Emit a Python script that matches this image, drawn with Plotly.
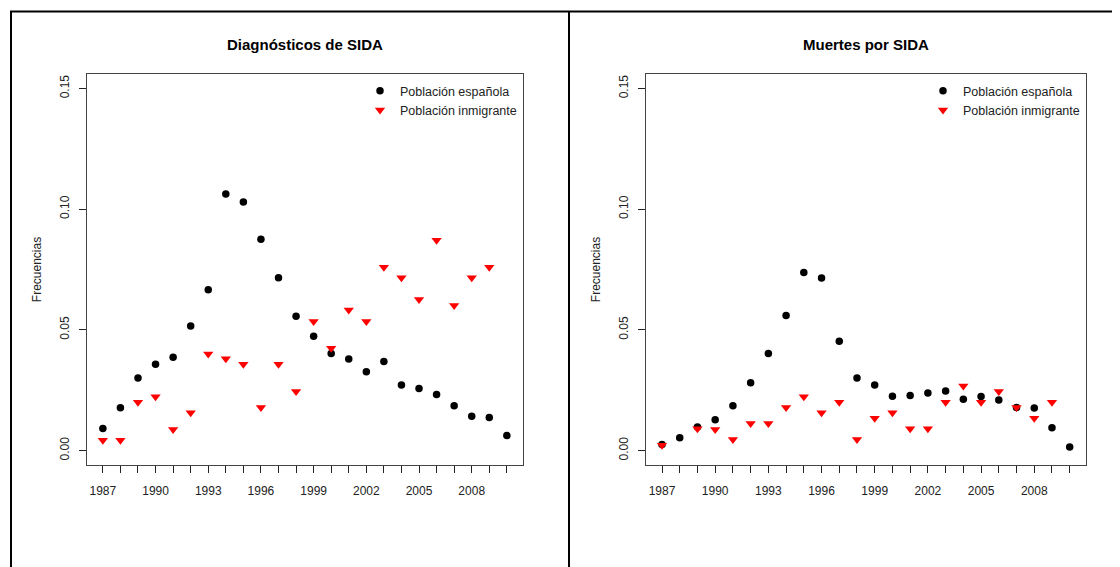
import plotly.graph_objects as go

years = list(range(1987, 2011))
tick_label_years = [1987, 1990, 1993, 1996, 1999, 2002, 2005, 2008]
y_ticks = [0.0, 0.05, 0.10, 0.15]

diag_esp = [0.0091, 0.0177, 0.0300, 0.0357, 0.0386, 0.0516, 0.0666, 0.1063, 0.1030, 0.0875,
            0.0716, 0.0556, 0.0473, 0.0402, 0.0379, 0.0326, 0.0369, 0.0271, 0.0257, 0.0232,
            0.0185, 0.0142, 0.0137, 0.0062]
diag_inm = [0.0043, 0.0043, 0.0200, 0.0223, 0.0087, 0.0156, 0.0400, 0.0380, 0.0357, 0.0178,
            0.0357, 0.0245, 0.0535, 0.0424, 0.0582, 0.0535, 0.0759, 0.0716, 0.0626, 0.0871,
            0.0601, 0.0716, 0.0759, None]

muert_esp = [0.0025, 0.0053, 0.0097, 0.0127, 0.0185, 0.0281, 0.0402, 0.0559, 0.0738, 0.0715,
             0.0453, 0.0300, 0.0271, 0.0225, 0.0228, 0.0238, 0.0247, 0.0212, 0.0224, 0.0209,
             0.0178, 0.0176, 0.0094, 0.0015]
muert_inm = [0.0022, None, 0.0090, 0.0087, 0.0046, 0.0112, 0.0112, 0.0178, 0.0223, 0.0156,
             0.0200, 0.0046, 0.0134, 0.0156, 0.0090, 0.0090, 0.0200, 0.0267, 0.0200, 0.0245,
             0.0178, 0.0134, 0.0200, None]

titles = ["Diagnósticos de SIDA", "Muertes por SIDA"]
series_names = ["Población española", "Población inmigrante"]
y_title = "Frecuencias"

# page body has an 8px margin: figure is drawn at (8, 8) in the window
OFF = 8
W, H = 1120 - OFF, 567 - OFF
FONT = "Liberation Sans, Arial, sans-serif"


def fx(px):
    return (px - OFF) / W


def fy(py):
    return 1 - (py - OFF) / H


fig = go.Figure()

panels = [(diag_esp, diag_inm, "x", "y", "legend"),
          (muert_esp, muert_inm, "x2", "y2", "legend2")]
for esp, inm, xa, ya, lg in panels:
    fig.add_trace(go.Scatter(x=years, y=esp, mode="markers", name=series_names[0],
                             xaxis=xa, yaxis=ya, legend=lg,
                             marker=dict(symbol="circle", size=7.5, color="black")))
    fig.add_trace(go.Scatter(x=years, y=inm, mode="markers", name=series_names[1],
                             xaxis=xa, yaxis=ya, legend=lg,
                             marker=dict(symbol="triangle-down", size=9, color="#FF0000")))

# pixel geometry (reference window coordinates)
plots = [(86.7, 523.0), (645.7, 1086.0)]
top_px, bot_px = 74.0, 465.0
ydom = [fy(bot_px), fy(top_px)]

axis_common = dict(showline=True, linecolor="#444444", linewidth=1, mirror=True,
                   ticks="outside", ticklen=7, tickcolor="#222222", tickwidth=1,
                   showgrid=False, zeroline=False,
                   tickfont=dict(family=FONT, size=12, color="#222222"))

xtext = [str(y) if y in tick_label_years else "" for y in years]
for i, (l, r) in enumerate(plots):
    sfx = "" if i == 0 else "2"
    fig.layout["xaxis" + sfx] = dict(domain=[fx(l), fx(r)], range=[1986.08, 2010.92],
                                     tickvals=years, ticktext=xtext, ticklabelstandoff=8,
                                     anchor="y" + sfx, **axis_common)
    fig.layout["yaxis" + sfx] = dict(domain=ydom, range=[-0.006, 0.156],
                                     tickvals=y_ticks, tickformat=".2f", tickangle=-90,
                                     ticklabelstandoff=5,
                                     anchor="x" + sfx, **axis_common)

annotations = []
for i, (l, r) in enumerate(plots):
    annotations.append(dict(text="<b>" + titles[i] + "</b>", xref="paper", yref="paper",
                            x=fx((l + r) / 2), y=fy(45), xanchor="center", yanchor="middle",
                            showarrow=False, font=dict(family=FONT, size=15, color="black")))
    annotations.append(dict(text=y_title, xref="paper", yref="paper",
                            x=fx(l - 49.5), y=fy(270), xanchor="center", yanchor="middle",
                            textangle=-90, showarrow=False,
                            font=dict(family=FONT, size=12, color="#222222")))

legend_common = dict(xanchor="right", yanchor="top", bgcolor="rgba(0,0,0,0)",
                     font=dict(family=FONT, size=12.5, color="#222222"),
                     tracegroupgap=0, itemwidth=30)

shapes = [
    dict(type="line", xref="paper", yref="paper", x0=fx(10), x1=1.0, y0=fy(11.5), y1=fy(11.5),
         line=dict(color="black", width=2)),
    dict(type="line", xref="paper", yref="paper", x0=fx(11), x1=fx(11), y0=0, y1=fy(11.5),
         line=dict(color="black", width=2)),
    dict(type="line", xref="paper", yref="paper", x0=fx(569), x1=fx(569), y0=0, y1=fy(11.5),
         line=dict(color="black", width=2)),
]

fig.update_layout(
    width=W, height=H, margin=dict(l=0, r=0, t=0, b=0),
    paper_bgcolor="white", plot_bgcolor="white",
    showlegend=True,
    legend=dict(x=fx(522), y=fy(76), **legend_common),
    legend2=dict(x=fx(1085), y=fy(76), **legend_common),
    annotations=annotations, shapes=shapes,
)

fig.write_html("out.html")
